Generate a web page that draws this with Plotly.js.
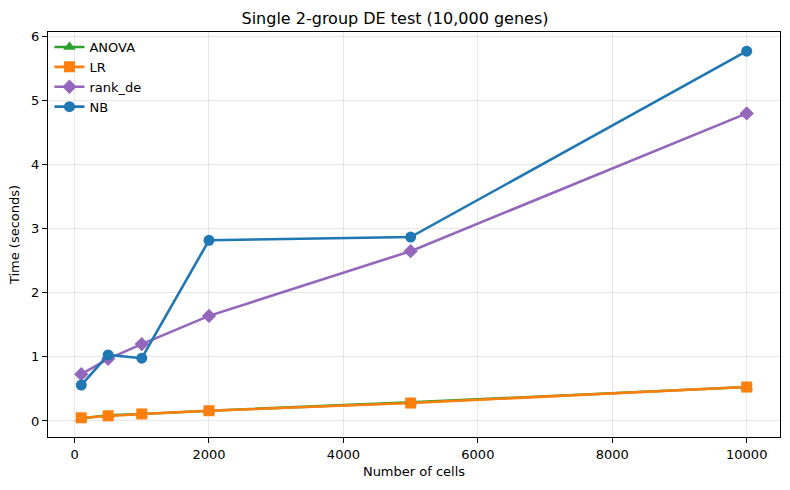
<!DOCTYPE html>
<html>
<head>
<meta charset="utf-8">
<script src="https://cdn.plot.ly/plotly-3.0.1.min.js"></script>
<style>html,body{margin:0;padding:0;background:#fff;}#chart{width:790px;height:490px;}</style>
</head>
<body>
<div id="chart"></div>
<script>
// Runtime (seconds) of a single two-group DE test on 10,000 genes
const cells = [100, 500, 1000, 2000, 5000, 10000];
const anovaTime = [0.04, 0.09, 0.11, 0.16, 0.29, 0.53];
const lrTime = [0.05, 0.08, 0.11, 0.16, 0.28, 0.53];
const rankDeTime = [0.73, 0.97, 1.20, 1.64, 2.65, 4.80];
const nbTime = [0.56, 1.03, 0.98, 2.82, 2.87, 5.77];

const xTicks = [0, 2000, 4000, 6000, 8000, 10000];
const yTicks = [0, 1, 2, 3, 4, 5, 6];

function series(name, y, color, symbol) {
  return {
    x: cells, y: y, name: name, type: 'scatter', mode: 'lines+markers',
    line: {color: color, width: 2.6},
    marker: {color: color, symbol: symbol, size: 11, line: {width: 0}}
  };
}

const traces = [
  series('ANOVA', anovaTime, '#2ca02c', 'triangle-up'),
  series('LR', lrTime, '#ff7f0e', 'square'),
  series('rank_de', rankDeTime, '#9467bd', 'diamond'),
  series('NB', nbTime, '#1f77b4', 'circle')
];

const font = {family: 'DejaVu Sans', size: 13, color: '#000'};
const axisCommon = {
  showline: true, linecolor: '#000', linewidth: 1, mirror: true,
  ticks: 'outside', ticklen: 5, tickwidth: 1, tickcolor: '#000',
  showgrid: true, gridcolor: 'rgba(176,176,176,0.3)', gridwidth: 1,
  zeroline: false, tickfont: font
};

const layout = {
  width: 790, height: 490,
  margin: {l: 48, r: 10, t: 32, b: 53},
  paper_bgcolor: '#fff', plot_bgcolor: '#fff',
  font: font,
  title: {text: 'Single 2-group DE test (10,000 genes)', font: {family: 'DejaVu Sans', size: 16, color: '#000'}, x: 0.5, xanchor: 'center', y: 0.963, yanchor: 'middle'},
  xaxis: Object.assign({}, axisCommon, {
    range: [-395, 10495], tickvals: xTicks, ticktext: xTicks.map(String),
    title: {text: 'Number of cells', font: font, standoff: 6}
  }),
  yaxis: Object.assign({}, axisCommon, {
    range: [-0.25, 6.07], tickvals: yTicks, ticktext: yTicks.map(String),
    title: {text: 'Time (seconds)', font: font, standoff: 8}
  }),
  legend: {
    x: 0.002, y: 1.0, xanchor: 'left', yanchor: 'top',
    bgcolor: 'rgba(255,255,255,0)', borderwidth: 0,
    font: font, itemwidth: 30, tracegroupgap: 0
  },
  showlegend: true
};

Plotly.newPlot('chart', traces, layout, {displayModeBar: false, staticPlot: true});
</script>
</body>
</html>
